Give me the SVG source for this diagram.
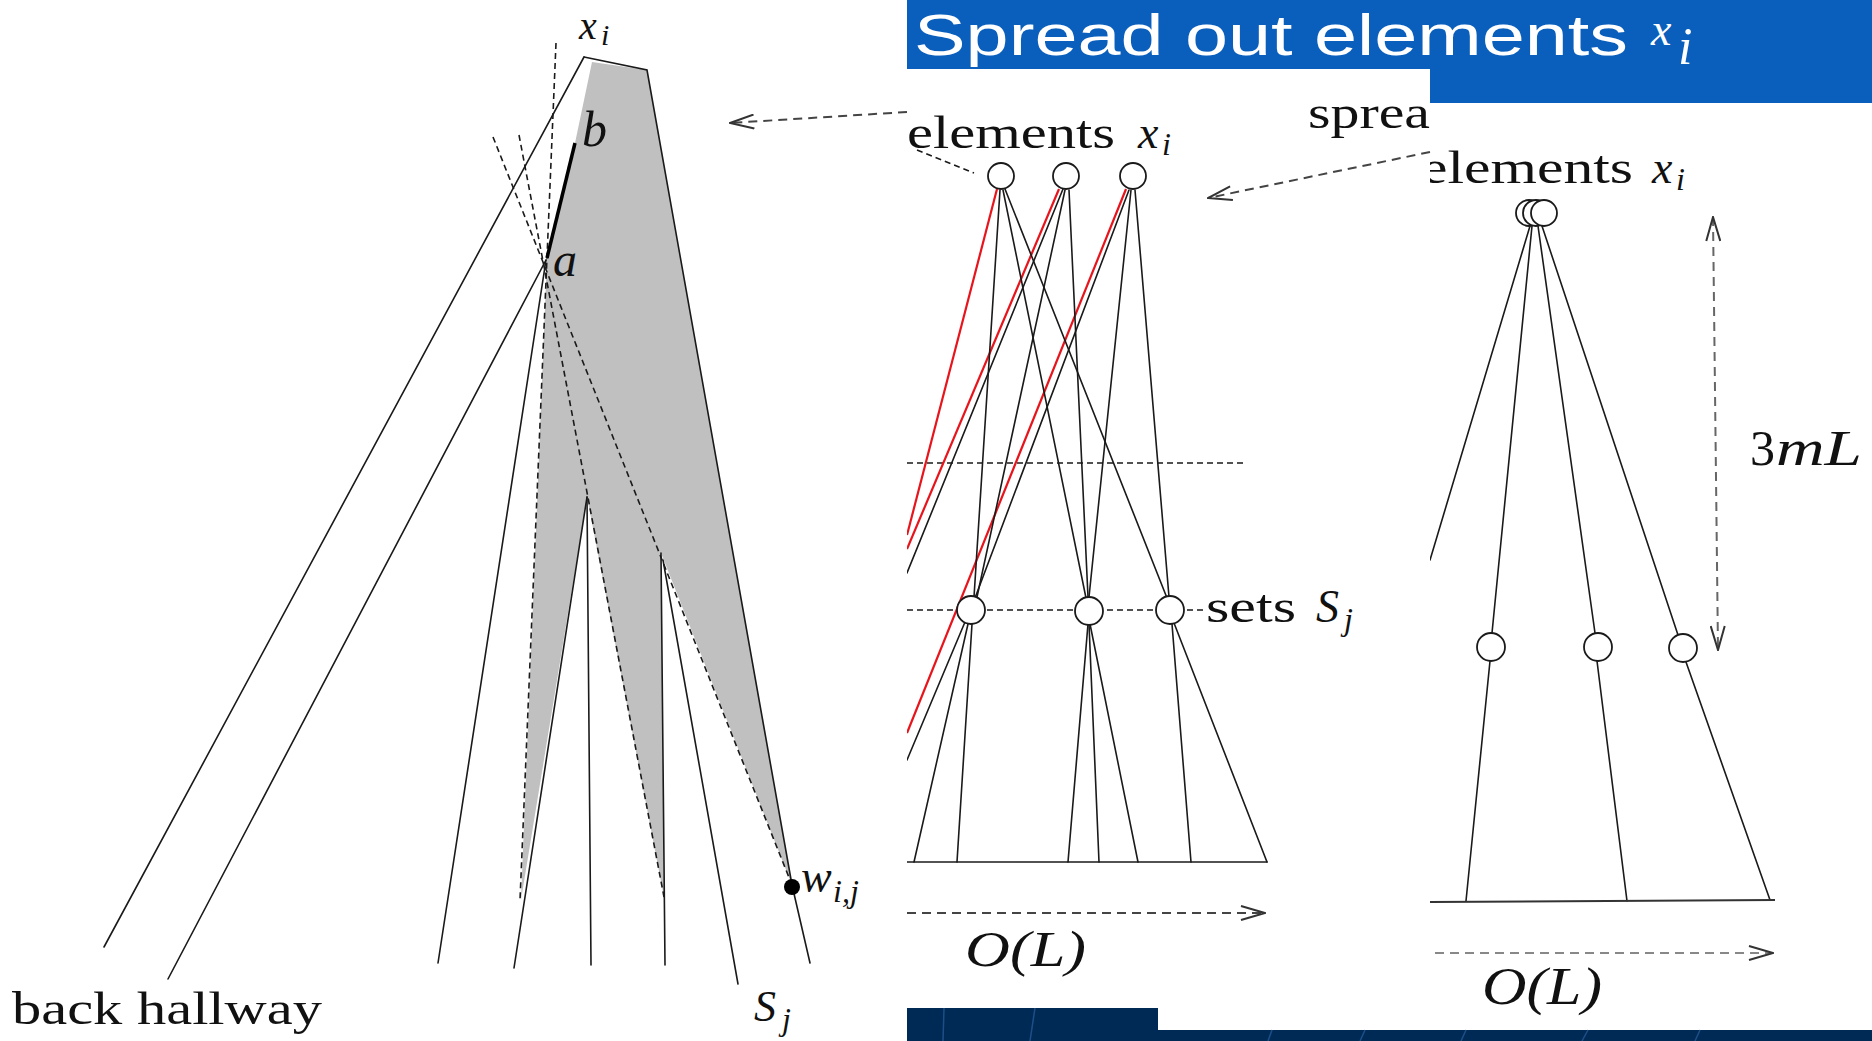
<svg xmlns="http://www.w3.org/2000/svg" width="1872" height="1041" viewBox="0 0 1872 1041">
<style>
.ln{stroke:#1a1a1a;stroke-width:1.6;fill:none;stroke-linecap:round}
.dl{stroke:#1a1a1a;stroke-width:1.6;fill:none;stroke-dasharray:6 4}
.red{stroke:#e8141c;stroke-width:2.2;fill:none}
.ar{stroke:#444;stroke-width:2;fill:none;stroke-dasharray:9 6}
.node{fill:#fff;stroke:#1a1a1a;stroke-width:1.8}
.rm{font-family:"Liberation Serif","DejaVu Serif",serif;fill:#111}
.it{font-family:"Liberation Serif","DejaVu Serif",serif;font-style:italic;fill:#111}
.shade{fill:#c0c0c0}
</style>
<defs>
<marker id="v" viewBox="0 0 26 16" refX="25" refY="8" markerWidth="26" markerHeight="16" markerUnits="userSpaceOnUse" orient="auto-start-reverse">
<path d="M1,1 L25,8 L1,15" fill="none" stroke="#333" stroke-width="2"/>
</marker>
<clipPath id="cm"><rect x="907" y="69" width="523" height="961"/></clipPath>
<clipPath id="cr"><rect x="1430" y="103" width="442" height="927"/></clipPath>
</defs>
<rect width="1872" height="1041" fill="#fff"/>
<g id="title-bar">
<polygon points="907,0 1872,0 1872,103 1430,103 1430,69 907,69" fill="#0a5fbd"/>
<text x="914" y="55" font-family="Liberation Sans,Arial,sans-serif" font-size="58" fill="#fff" textLength="714" lengthAdjust="spacingAndGlyphs">Spread out elements</text>
<text x="1651" y="45" font-family="Liberation Serif,serif" font-style="italic" font-size="46" fill="#fff">x</text>
<text x="1678" y="64" font-family="Liberation Serif,serif" font-style="italic" font-size="52" fill="#fff">i</text>
</g>
<g id="footer">
<polygon points="907,1008 1158,1008 1158,1030 1872,1030 1872,1041 907,1041" fill="#002a56"/>
<g stroke="#1c4f88" stroke-width="1.5">
<line x1="944" y1="1008" x2="943" y2="1041"/><line x1="1035" y1="1008" x2="1030" y2="1041"/>
<line x1="1272" y1="1030" x2="1268" y2="1041"/><line x1="1365" y1="1030" x2="1360" y2="1041"/>
<line x1="1466" y1="1030" x2="1461" y2="1041"/><line x1="1588" y1="1030" x2="1582" y2="1041"/>
<line x1="1700" y1="1030" x2="1695" y2="1041"/>
</g>
</g>

<g id="left-figure">
<polygon class="shade" points="592,62 647,70 792,885 661,553 664,897 587,497 521,900 547,258 575,143"/>
<g id="left-connectors">
<polyline class="ln" points="584,57 647,70 792,885 810,963"/>
<line class="ln" x1="584" y1="57" x2="104" y2="947"/>
<line class="ln" x1="546" y1="260" x2="168" y2="979"/>
<line class="ln" x1="546" y1="260" x2="438" y2="963"/>
<line class="ln" x1="587" y1="497" x2="514" y2="968"/>
<line class="ln" x1="587" y1="497" x2="591" y2="965"/>
<line class="ln" x1="661" y1="553" x2="665" y2="965"/>
<line class="ln" x1="663" y1="560" x2="738" y2="984"/>
<line class="dl" x1="556" y1="43" x2="520" y2="900"/>
<line class="dl" x1="519" y1="135" x2="664" y2="897"/>
<line class="dl" x1="493" y1="137" x2="792" y2="885"/>
<line stroke="#000" stroke-width="3.5" x1="547" y1="258" x2="575" y2="143"/>
</g>
<circle id="w-ij" cx="792" cy="887" r="8" fill="#000"/>
<text class="it" x="579" y="39" font-size="40">x</text><text class="it" x="601" y="45" font-size="30">i</text>
<text class="it" x="582" y="146" font-size="50">b</text>
<text class="it" x="553" y="276" font-size="48">a</text>
<text class="it" x="801" y="892" font-size="46">w</text><text class="it" x="833" y="902" font-size="32">i,j</text>
<text class="it" x="754" y="1021" font-size="44">S</text><text class="it" x="782" y="1030" font-size="32">j</text>
<text class="rm" x="12" y="1024" font-size="46" textLength="310" lengthAdjust="spacingAndGlyphs">back hallway</text>
</g>

<g id="connectors">
<line class="ar" x1="907" y1="112" x2="730" y2="123" marker-end="url(#v)"/>
<line class="ar" x1="1430" y1="152" x2="1208" y2="198" marker-end="url(#v)"/>
</g>

<g id="middle-figure" clip-path="url(#cm)">
<line class="dl" x1="907" y1="463" x2="1245" y2="463"/>
<line class="dl" x1="907" y1="610" x2="1206" y2="610"/>
<line class="dl" x1="917" y1="150" x2="974" y2="173"/>
<g id="middle-connectors">
<line class="red" x1="997" y1="189" x2="907" y2="535"/>
<line class="red" x1="1059" y1="189" x2="907" y2="549"/>
<line class="ln" x1="1063" y1="189" x2="907" y2="573"/>
<line class="red" x1="1126" y1="189" x2="907" y2="733"/>
<line class="ln" x1="1000" y1="190" x2="974" y2="597"/>
<line class="ln" x1="1003" y1="190" x2="1086" y2="598"/>
<line class="ln" x1="1005" y1="189" x2="1167" y2="598"/>
<line class="ln" x1="1065" y1="190" x2="977" y2="597"/>
<line class="ln" x1="1069" y1="190" x2="1088" y2="597"/>
<line class="ln" x1="1129" y1="190" x2="975" y2="598"/>
<line class="ln" x1="1131" y1="190" x2="1089" y2="597"/>
<line class="ln" x1="1135" y1="190" x2="1169" y2="597"/>
<line class="ln" x1="965" y1="622" x2="907" y2="760"/>
<line class="ln" x1="968" y1="624" x2="914" y2="862"/>
<line class="ln" x1="972" y1="624" x2="957" y2="862"/>
<line class="ln" x1="1088" y1="624" x2="1068" y2="862"/>
<line class="ln" x1="1089" y1="624" x2="1099" y2="862"/>
<line class="ln" x1="1090" y1="624" x2="1138" y2="862"/>
<line class="ln" x1="1172" y1="624" x2="1191" y2="862"/>
<line class="ln" x1="1174" y1="623" x2="1267" y2="862"/>
<line class="ln" x1="907" y1="862" x2="1267" y2="862"/>
<line class="ar" x1="907" y1="913" x2="1265" y2="913" marker-end="url(#v)"/>
</g>
<circle id="x1" class="node" cx="1001" cy="176" r="13"/>
<circle id="x2" class="node" cx="1066" cy="176" r="13"/>
<circle id="x3" class="node" cx="1133" cy="176" r="13"/>
<circle id="s1" class="node" cx="971" cy="610" r="14"/>
<circle id="s2" class="node" cx="1089" cy="611" r="14"/>
<circle id="s3" class="node" cx="1170" cy="610" r="14"/>
<text class="rm" x="907" y="148" font-size="46" textLength="208" lengthAdjust="spacingAndGlyphs">elements</text>
<text class="it" x="1138" y="148" font-size="46">x</text><text class="it" x="1162" y="155" font-size="32">i</text>
<text class="rm" x="1308" y="128" font-size="46" textLength="122" lengthAdjust="spacingAndGlyphs">sprea</text>
<text class="rm" x="1206" y="622" font-size="46" textLength="90" lengthAdjust="spacingAndGlyphs">sets</text>
<text class="it" x="1316" y="622" font-size="46">S</text><text class="it" x="1344" y="630" font-size="32">j</text>
<text class="it" x="965" y="966" font-size="50" textLength="121" lengthAdjust="spacingAndGlyphs">O(L)</text>
</g>

<g id="right-figure" clip-path="url(#cr)">
<g id="right-connectors">
<line class="ln" x1="1530" y1="226" x2="1430" y2="560"/>
<line class="ln" x1="1532" y1="226" x2="1492" y2="633"/>
<line class="ln" x1="1538" y1="226" x2="1595" y2="633"/>
<line class="ln" x1="1542" y1="226" x2="1678" y2="635"/>
<line class="ln" x1="1490" y1="661" x2="1466" y2="901"/>
<line class="ln" x1="1597" y1="661" x2="1627" y2="901"/>
<line class="ln" x1="1686" y1="662" x2="1770" y2="900"/>
<line x1="1430" y1="902" x2="1775" y2="900" stroke="#333" stroke-width="2"/>
<line class="ar" x1="1435" y1="953" x2="1773" y2="953" marker-end="url(#v)" style="stroke:#888"/>
<line class="ar" x1="1713" y1="217" x2="1718" y2="650" marker-start="url(#v)" marker-end="url(#v)" style="stroke:#666"/>
</g>
<circle id="y1" class="node" cx="1529" cy="213" r="13"/>
<circle id="y2" class="node" cx="1536" cy="213" r="13"/>
<circle id="y3" class="node" cx="1544" cy="213" r="13"/>
<circle id="t1" class="node" cx="1491" cy="647" r="14"/>
<circle id="t2" class="node" cx="1598" cy="647" r="14"/>
<circle id="t3" class="node" cx="1683" cy="648" r="14"/>
<text class="rm" x="1421" y="183" font-size="46" textLength="212" lengthAdjust="spacingAndGlyphs">elements</text>
<text class="it" x="1652" y="183" font-size="46">x</text><text class="it" x="1676" y="190" font-size="32">i</text>
<text class="rm" x="1750" y="465" font-size="50">3</text><text class="it" x="1776" y="465" font-size="50" textLength="86" lengthAdjust="spacingAndGlyphs">mL</text>
<text class="it" x="1482" y="1004" font-size="52" textLength="120" lengthAdjust="spacingAndGlyphs">O(L)</text>
</g>
</svg>
